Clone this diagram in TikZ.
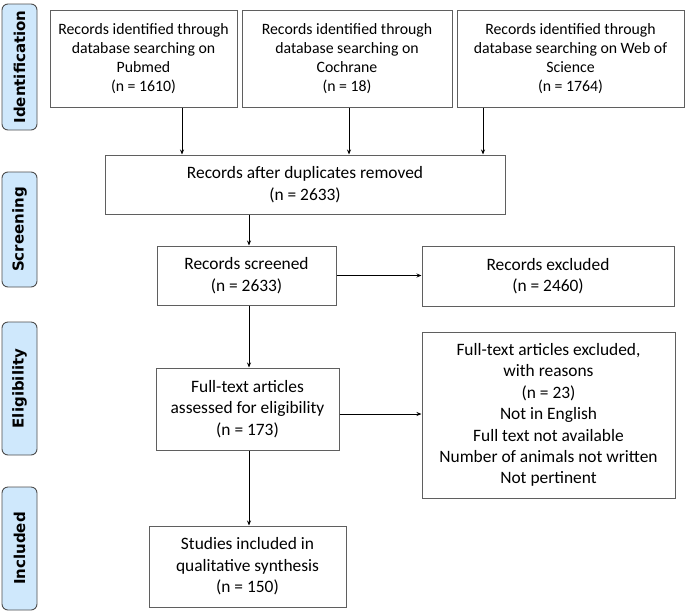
\documentclass[tikz,border=0pt]{standalone}
\usepackage{fontspec}
\setmainfont{Carlito}
\newfontfamily\lblfont{DejaVu Sans}
\usetikzlibrary{arrows.meta}
\definecolor{boxgray}{HTML}{5F5F5F}
\definecolor{lblblue}{HTML}{CFE8FC}
\definecolor{lblgray}{HTML}{4D4D4D}
\tikzset{
  box/.style={draw=boxgray, line width=1pt, fill=white, align=center, inner sep=0pt,
    font=\fontsize{17.4}{21.4}\selectfont},
  topbox/.style={box, font=\fontsize{15.8}{19}\selectfont},
  sidelbl/.style={draw=lblgray, line width=0.9pt, fill=lblblue, rounded corners=6pt,
    rotate=90, inner sep=0pt, minimum height=35pt,
    font=\lblfont\bfseries\fontsize{15}{16}\selectfont},
  arr/.style={line width=0.8pt, black, -{Stealth[length=5pt,width=4pt]}}
}
\begin{document}
\begin{tikzpicture}[x=1pt,y=-1pt]
\useasboundingbox (0,0) rectangle (685,611);
% side labels
\node[sidelbl, minimum width=126pt] (lid) at (19.5,67) {Identification};
\node[sidelbl, minimum width=115pt] (lsc) at (19.5,229.5) {Screening};
\node[sidelbl, minimum width=133pt] (lel) at (19.5,388.5) {Eligibility};
\node[sidelbl, minimum width=123pt] (lin) at (19.5,548.5) {Included};
% boxes
\node[topbox, minimum width=187pt, minimum height=97pt] (pub) at (143.5,58.5)
  {Records identified through\\database searching on\\Pubmed\\(n = 1610)};
\node[topbox, minimum width=210pt, minimum height=97pt] (coch) at (347,58.5)
  {Records identified through\\database searching on\\Cochrane\\(n = 18)};
\node[topbox, minimum width=227pt, minimum height=97pt] (wos) at (570.5,58.5)
  {Records identified through\\database searching on Web of\\Science\\(n = 1764)};
\node[box, minimum width=400pt, minimum height=59pt] (dup) at (305,184.5)
  {Records after duplicates removed\\(n = 2633)};
\node[box, minimum width=179pt, minimum height=59pt] (scr) at (246.5,275.5)
  {Records screened\\(n = 2633)};
\node[box, minimum width=252pt, minimum height=60pt] (exc) at (548,276)
  {Records excluded\\(n = 2460)};
\node[box, minimum width=183pt, minimum height=82pt] (ft) at (247.5,409)
  {Full-text articles\\assessed for eligibility\\(n = 173)};
\node[box, minimum width=253pt, minimum height=166pt] (rsn) at (548.5,415)
  {Full-text articles excluded,\\with reasons\\(n = 23)\\Not in English\\Full text not available\\Number of animals not written\\Not pertinent};
\node[box, minimum width=197pt, minimum height=81pt] (inc) at (247.5,566.5)
  {Studies included in\\qualitative synthesis\\(n = 150)};
% connector columns
\coordinate (c1) at (182,0);
\coordinate (c2) at (349,0);
\coordinate (c3) at (483,0);
\coordinate (cm) at (249,0);
\coordinate (r2) at (0,414);
\draw[arr] (pub.south -| c1) -- (dup.north -| c1);
\draw[arr] (coch.south -| c2) -- (dup.north -| c2);
\draw[arr] (wos.south -| c3) -- (dup.north -| c3);
\draw[arr] (dup.south -| cm) -- (scr.north -| cm);
\draw[arr] (scr.east) -- (exc.west |- scr.east);
\draw[arr] (scr.south -| cm) -- (ft.north -| cm);
\draw[arr] (ft.east |- r2) -- (rsn.west |- r2);
\draw[arr] (ft.south -| cm) -- (inc.north -| cm);
\end{tikzpicture}
\end{document}
